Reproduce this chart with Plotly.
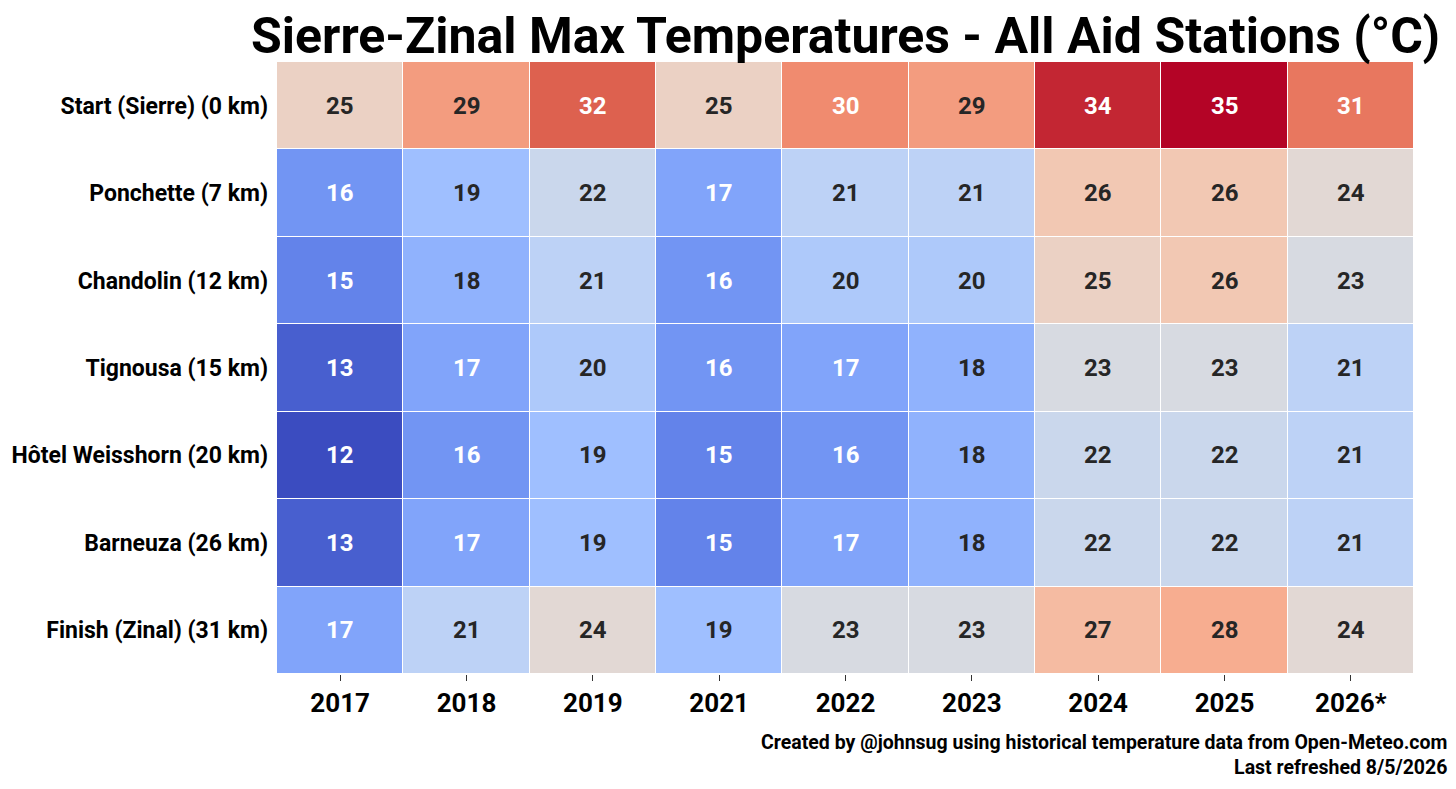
"""Sierre-Zinal max temperature heatmap, one row per aid station, one column per race year."""
import plotly.graph_objects as go

YEARS = ["2017", "2018", "2019", "2021", "2022", "2023", "2024", "2025", "2026*"]
STATIONS = ["Start (Sierre) (0 km)", "Ponchette (7 km)", "Chandolin (12 km)",
            "Tignousa (15 km)", "Hôtel Weisshorn (20 km)", "Barneuza (26 km)",
            "Finish (Zinal) (31 km)"]
START = [25, 29, 32, 25, 30, 29, 34, 35, 31]
PONCHETTE = [16, 19, 22, 17, 21, 21, 26, 26, 24]
CHANDOLIN = [15, 18, 21, 16, 20, 20, 25, 26, 23]
TIGNOUSA = [13, 17, 20, 16, 17, 18, 23, 23, 21]
WEISSHORN = [12, 16, 19, 15, 16, 18, 22, 22, 21]
BARNEUZA = [13, 17, 19, 15, 17, 18, 22, 22, 21]
FINISH = [17, 21, 24, 19, 23, 23, 27, 28, 24]
FOOTER = ["Created by @johnsug using historical temperature data from Open-Meteo.com",
          "Last refreshed 8/5/2026"]

Z = [START, PONCHETTE, CHANDOLIN, TIGNOUSA, WEISSHORN, BARNEUZA, FINISH]

# matplotlib "coolwarm" sampled at 11 stops
COOLWARM = ["#3b4cc0", "#5977e3", "#7b9ff9", "#9ebeff", "#c0d4f5", "#dddcdc",
            "#f2cbb7", "#f7ac8e", "#ee8468", "#d65244", "#b40426"]
ZMIN, ZMAX = 12, 35
FONT = "Roboto"


def rgb(h):
    return [int(h[i:i + 2], 16) / 255 for i in (1, 3, 5)]


def cell_color(v):
    t = (v - ZMIN) / (ZMAX - ZMIN) * (len(COOLWARM) - 1)
    i = min(int(t), len(COOLWARM) - 2)
    f = t - i
    a, b = rgb(COOLWARM[i]), rgb(COOLWARM[i + 1])
    return [a[k] + (b[k] - a[k]) * f for k in range(3)]


def luminance(c):
    lin = [x / 12.92 if x <= 0.03928 else ((x + 0.055) / 1.055) ** 2.4 for x in c]
    return 0.2126 * lin[0] + 0.7152 * lin[1] + 0.0722 * lin[2]


xi = list(range(len(YEARS)))
yi = list(range(len(STATIONS)))

fig = go.Figure(go.Heatmap(
    z=Z, x=xi, y=yi, zmin=ZMIN, zmax=ZMAX,
    colorscale=[[i / (len(COOLWARM) - 1), c] for i, c in enumerate(COOLWARM)],
    showscale=False, xgap=1, ygap=1,
))

for r, row in enumerate(Z):
    for c, v in enumerate(row):
        dark = luminance(cell_color(v)) > 0.408
        fig.add_annotation(
            x=c, y=r, text=str(v), showarrow=False,
            font=dict(family=FONT, size=24, weight="bold",
                      color="#262626" if dark else "white"),
        )

fig.add_annotation(
    xref="paper", yref="paper", x=1.031, y=-0.09, xanchor="right", yanchor="top",
    align="right", showarrow=False, text="<br>".join(FOOTER),
    font=dict(family=FONT, size=19.5, weight="bold", color="black"),
)

# the page body adds an 8px offset, so the figure is sized to the remaining window
fig.update_layout(
    width=1448, height=781,
    margin=dict(l=269, r=42, t=54, b=115, autoexpand=False),
    paper_bgcolor="white", plot_bgcolor="white",
    title=dict(text="Sierre-Zinal Max Temperatures - All Aid Stations (°C)",
               x=0.5784, xanchor="center", y=0.9654, yanchor="middle",
               font=dict(family=FONT, size=50, weight="bold", color="black")),
    font=dict(family=FONT, color="black"),
)
fig.update_xaxes(tickmode="array", tickvals=xi, ticktext=YEARS,
                 range=[-0.5, len(YEARS) - 0.5], automargin=False,
                 showgrid=False, zeroline=False, showline=False,
                 ticks="outside", ticklen=6, tickwidth=1, tickcolor="#333",
                 tickfont=dict(family=FONT, size=26, weight="bold", color="black"))
fig.update_yaxes(tickmode="array", tickvals=yi, ticktext=STATIONS,
                 range=[len(STATIONS) - 0.5, -0.5], automargin=False,
                 showgrid=False, zeroline=False, showline=False, ticks="",
                 ticklabelstandoff=8,
                 tickfont=dict(family=FONT, size=23, weight="bold", color="black"))

fig.write_html("out.html")
